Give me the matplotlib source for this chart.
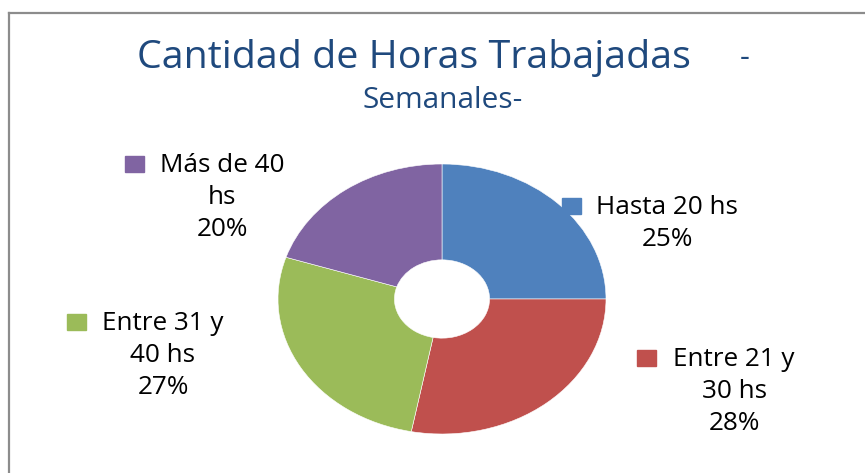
import matplotlib
matplotlib.use('Agg')
import matplotlib.pyplot as plt
from matplotlib.lines import Line2D
from matplotlib.patches import Rectangle

# data
categories = ['Hasta 20 hs', 'Entre 21 y 30 hs', 'Entre 31 y 40 hs', 'Más de 40 hs']
percent = [25, 28, 27, 20]
colors = ['#4F81BD', '#C0504D', '#9BBB59', '#8064A2']
label_lines = [
    ['Hasta 20 hs', '25%'],
    ['Entre 21 y', '30 hs', '28%'],
    ['Entre 31 y', '40 hs', '27%'],
    ['Más de 40', 'hs', '20%'],
]

W, H = 865, 473
fig = plt.figure(figsize=(W / 100, H / 100), dpi=100)
fig.patch.set_facecolor('white')
FONT = 'Open Sans'


def fx(x):
    return x / W


def fy(y):
    return 1 - y / H


# chart border (top + left only visible)
fig.add_artist(Line2D([fx(9), 1], [fy(13), fy(13)], color='#8c8c8c', lw=1.6))
fig.add_artist(Line2D([fx(9), fx(9)], [fy(13), 0], color='#8c8c8c', lw=1.6))

# title
title_col = '#1F497D'
fig.text(fx(414), fy(68), 'Cantidad de Horas Trabajadas', ha='center', va='baseline',
         fontsize=28.4, color=title_col, family=FONT)
fig.text(fx(745), fy(66), '-', ha='center', va='baseline',
         fontsize=22, color=title_col, family=FONT)
fig.text(fx(443), fy(108), 'Semanales-', ha='center', va='baseline',
         fontsize=21.5, color=title_col, family=FONT)

# doughnut, a bit squashed like the original
cx, cy, rx, ry = 442, 299, 164, 135
ax = fig.add_axes([fx(cx - rx), fy(cy + ry), 2 * rx / W, 2 * ry / H])
ax.pie(percent, colors=colors, startangle=90, counterclock=False, radius=1,
       wedgeprops=dict(width=0.71, edgecolor='white', linewidth=0.4))
ax.set_aspect('auto')
ax.set_xlim(-1, 1)
ax.set_ylim(-1, 1)
ax.axis('off')

# data labels: text center x, first baseline y, square left x
label_pos = [(667, 214, 562), (734, 366, 637), (163, 330, 67), (222, 172, 125)]
step = 32
for lines, (tx, ty, sx), c in zip(label_lines, label_pos, colors):
    for i, s in enumerate(lines):
        fig.text(fx(tx), fy(ty + i * step), s, ha='center', va='baseline',
                 fontsize=18.8, color='black', family=FONT)
    fig.add_artist(Rectangle((fx(sx), fy(ty)), 19 / W, 16 / H, color=c,
                             transform=fig.transFigure))

fig.savefig('out.png', dpi=100)
